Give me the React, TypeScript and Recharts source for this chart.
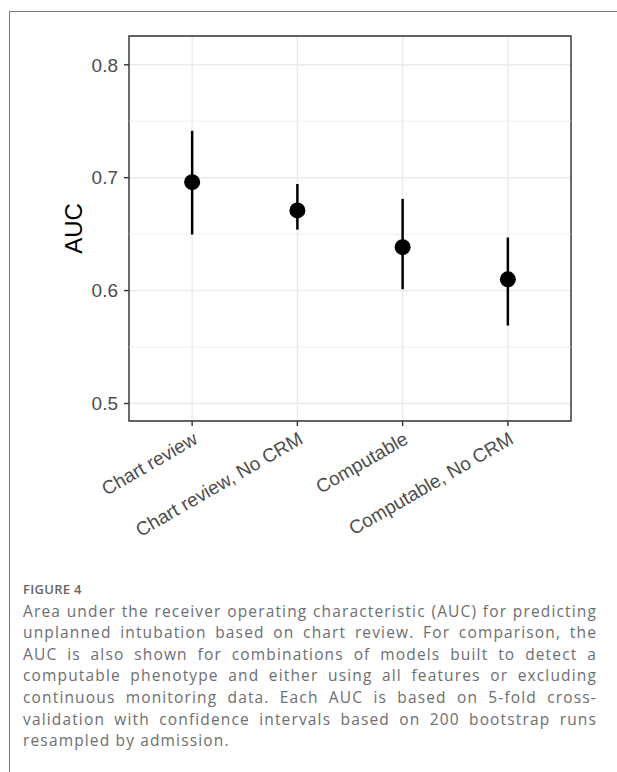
import React from 'react';
import {
  ScatterChart,
  Scatter,
  XAxis,
  YAxis,
  CartesianGrid,
  ErrorBar,
  ReferenceLine,
  ReferenceArea,
} from 'recharts';

const categories = ['Chart review', 'Chart review, No CRM', 'Computable', 'Computable, No CRM'];
const aucValues = [0.696, 0.671, 0.6385, 0.61];
const ciLower = [0.6497, 0.654, 0.6012, 0.5691];
const ciUpper = [0.7415, 0.6944, 0.6812, 0.647];

const yTicks = [0.5, 0.6, 0.7, 0.8];
const yMinorTicks = [0.55, 0.65, 0.75];
const xTicks = [1, 2, 3, 4];

const captionTitle = 'FIGURE 4';
const captionLines = [
  'Area under the receiver operating characteristic (AUC) for predicting',
  'unplanned intubation based on chart review. For comparison, the',
  'AUC is also shown for combinations of models built to detect a',
  'computable phenotype and either using all features or excluding',
  'continuous monitoring data. Each AUC is based on 5-fold cross-',
  'validation with confidence intervals based on 200 bootstrap runs',
  'resampled by admission.',
];

const X_DOMAIN: [number, number] = [0.4, 4.6];
const Y_DOMAIN: [number, number] = [0.4845, 0.8255];

const data = categories.map((name, i) => ({
  pos: i + 1,
  name,
  auc: aucValues[i],
  ci: [aucValues[i] - ciLower[i], ciUpper[i] - aucValues[i]],
}));

const FONT = '"Liberation Sans", Arial, sans-serif';
const GRID = '#EBEBEB';
const INK = '#333333';
const LABEL = '#4D4D4D';

const CategoryTick = (props: any) => {
  const { x, y, payload } = props;
  return (
    <text
      x={x}
      y={y}
      dy="0.71em"
      textAnchor="end"
      fill={LABEL}
      fontSize={19}
      fontFamily={FONT}
      transform={`rotate(-30, ${x}, ${y})`}
    >
      {categories[payload.value - 1]}
    </text>
  );
};

const AxisTitle = (props: any) => {
  const { viewBox } = props;
  const x = viewBox.x + 82;
  const y = viewBox.y + viewBox.height / 2;
  return (
    <text
      x={x}
      y={y}
      textAnchor="middle"
      fill="#000"
      fontSize={24}
      fontFamily={FONT}
      transform={`rotate(-90, ${x}, ${y})`}
    >
      AUC
    </text>
  );
};

const Dot = (props: any) => <circle cx={props.cx} cy={props.cy} r={8} fill="#000" />;

const App: React.FC = () => {
  return (
    <div style={{ position: 'absolute', left: 0, top: 0, width: 617, height: 772, background: '#fff', overflow: 'hidden' }}>
      <div
        style={{
          position: 'absolute',
          left: 9,
          top: 11,
          width: 700,
          height: 900,
          borderTop: '1px solid #7a7a7a',
          borderLeft: '1px solid #7a7a7a',
        }}
      />

      <div style={{ position: 'absolute', left: 0, top: 0 }}>
        <ScatterChart width={617} height={560} margin={{ top: 36, right: 46, bottom: 0, left: 0 }}>
          <CartesianGrid stroke={GRID} strokeWidth={1.4} />
          {yMinorTicks.map((v) => (
            <ReferenceLine key={v} y={v} stroke={GRID} strokeWidth={0.8} />
          ))}
          <XAxis
            type="number"
            dataKey="pos"
            domain={X_DOMAIN}
            ticks={xTicks}
            allowDataOverflow
            height={139}
            axisLine={false}
            tickSize={5}
            tickMargin={5}
            tickLine={{ stroke: INK, strokeWidth: 1.4 }}
            tick={<CategoryTick />}
            interval={0}
          />
          <YAxis
            type="number"
            dataKey="auc"
            domain={Y_DOMAIN}
            ticks={yTicks}
            allowDataOverflow
            width={129}
            axisLine={false}
            tickSize={5}
            tickMargin={6}
            tickLine={{ stroke: INK, strokeWidth: 1.4 }}
            tick={{ fill: LABEL, fontSize: 19, fontFamily: FONT }}
            tickFormatter={(v: number) => v.toFixed(1)}
            interval={0}
            label={<AxisTitle />}
          />
          <ReferenceArea
            x1={X_DOMAIN[0]}
            x2={X_DOMAIN[1]}
            y1={Y_DOMAIN[0]}
            y2={Y_DOMAIN[1]}
            fill="none"
            fillOpacity={0}
            stroke={INK}
            strokeWidth={1.4}
            ifOverflow="visible"
          />
          <Scatter data={data} shape={<Dot />} isAnimationActive={false}>
            <ErrorBar dataKey="ci" direction="y" width={0} stroke="#000" strokeWidth={2.5} isAnimationActive={false} />
          </Scatter>
        </ScatterChart>
      </div>

      <div
        style={{
          position: 'absolute',
          left: 23,
          top: 579,
          width: 574,
          fontFamily: '"Open Sans", "Noto Sans", sans-serif',
          color: '#6d6e71',
        }}
      >
        <div style={{ fontSize: 13, fontWeight: 600, lineHeight: '21.6px', letterSpacing: 0.3, color: '#666' }}>
          {captionTitle}
        </div>
        {captionLines.map((line, i) => (
          <div
            key={i}
            style={{
              fontSize: 15.5,
              lineHeight: '21.6px',
              letterSpacing: 1.15,
              whiteSpace: 'nowrap',
              textAlign: i === captionLines.length - 1 ? 'left' : 'justify',
              textAlignLast: i === captionLines.length - 1 ? 'left' : 'justify',
            }}
          >
            {line}
          </div>
        ))}
      </div>
    </div>
  );
};

export default App;
